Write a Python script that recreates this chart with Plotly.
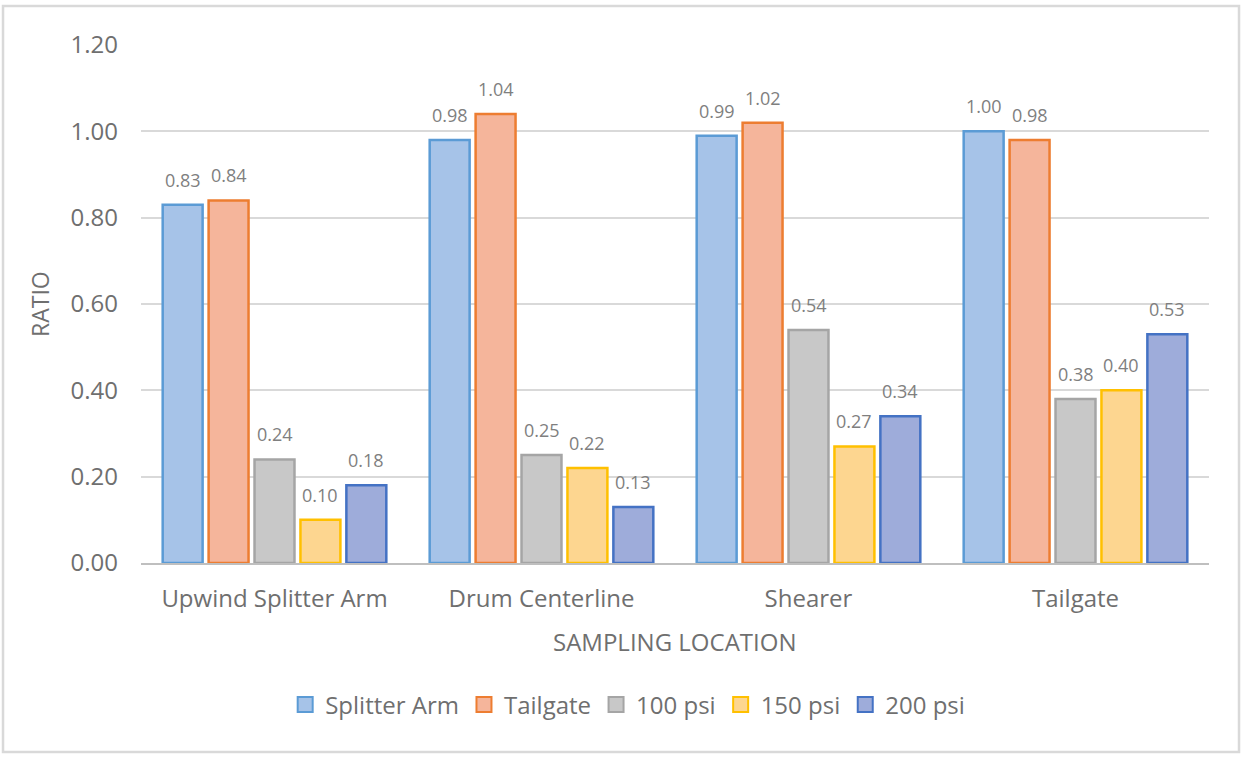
import plotly.graph_objects as go

# Sampling locations on the x axis
locations = ["Upwind Splitter Arm", "Drum Centerline", "Shearer", "Tailgate"]

# Ratio per series, one value per location
series_names = ["Splitter Arm", "Tailgate", "100 psi", "150 psi", "200 psi"]
splitter_arm = [0.83, 0.98, 0.99, 1.00]
tailgate = [0.84, 1.04, 1.02, 0.98]
psi_100 = [0.24, 0.25, 0.54, 0.38]
psi_150 = [0.10, 0.22, 0.27, 0.40]
psi_200 = [0.18, 0.13, 0.34, 0.53]

y_ticks = [0.0, 0.2, 0.4, 0.6, 0.8, 1.0, 1.2]

series_values = [splitter_arm, tailgate, psi_100, psi_150, psi_200]
fills = ["#a6c3e8", "#f5b59b", "#c8c8c8", "#fdd690", "#9eacda"]
edges = ["#5b9bd5", "#ed7d31", "#a5a5a5", "#ffc000", "#4472c4"]

FONT = "Open Sans, Noto Sans, sans-serif"
TEXT = "#6f6f6f"
BARGAP = 0.14
BARGROUPGAP = 0.13

x_pos = list(range(len(locations)))
fig = go.Figure()
for name, vals, fc, ec in zip(series_names, series_values, fills, edges):
    fig.add_trace(go.Bar(
        x=x_pos, y=vals, name=name, showlegend=False,
        marker=dict(color=fc, line=dict(color=ec, width=2.5)),
        hoverinfo="skip",
    ))

# legend entries: square swatches with the series outline
for name, fc, ec in zip(series_names, fills, edges):
    fig.add_trace(go.Scatter(
        x=[None], y=[None], mode="markers", name=name,
        marker=dict(symbol="square", size=15, color=fc, line=dict(color=ec, width=2)),
        hoverinfo="skip",
    ))

# value labels above each bar, centred on the bar's slot within its group
n = len(series_names)
slot = (1 - BARGAP) / n
annotations = []
for i, vals in enumerate(series_values):
    for j, v in enumerate(vals):
        annotations.append(dict(
            x=x_pos[j] + (i - (n - 1) / 2) * slot, y=v, xref="x", yref="y",
            text=f"{v:.2f}", showarrow=False, yanchor="bottom", yshift=11,
            font=dict(family=FONT, size=18, color="#7f7f7f"),
        ))

annotations.append(dict(
    x=-0.0946, y=0.5, xref="paper", yref="paper", text="RATIO",
    textangle=-90, showarrow=False, xanchor="center", yanchor="middle",
    font=dict(family=FONT, size=23, color=TEXT),
))
annotations.append(dict(
    x=0.5, y=-0.1506, xref="paper", yref="paper", text="SAMPLING LOCATION",
    showarrow=False, xanchor="center", yanchor="middle",
    font=dict(family=FONT, size=24, color=TEXT),
))

fig.update_layout(
    width=1242, height=758,
    margin=dict(l=141, r=33, t=45, b=195),
    paper_bgcolor="white", plot_bgcolor="white",
    barmode="group", bargap=BARGAP, bargroupgap=BARGROUPGAP,
    font=dict(family=FONT, color=TEXT),
    showlegend=True,
    legend=dict(
        orientation="h", x=0.135, xanchor="left", y=-0.274, yanchor="middle",
        font=dict(family=FONT, size=24, color=TEXT),
        itemclick=False, itemdoubleclick=False, tracegroupgap=0,
        itemwidth=30,
    ),
    annotations=annotations,
    shapes=[dict(
        type="rect", xref="paper", yref="paper",
        x0=-0.1292, x1=1.0281, y0=-0.3649, y1=1.0753,
        line=dict(color="#d9d9d9", width=2.5), layer="below",
    )],
)

fig.update_xaxes(
    tickmode="array", tickvals=x_pos, ticktext=locations,
    range=[-0.5, len(locations) - 0.5],
    showgrid=False, zeroline=False, showline=True,
    linecolor="#bfbfbf", linewidth=1.5, ticks="",
    tickfont=dict(family=FONT, size=24, color=TEXT),
    ticklabelstandoff=13,
)
fig.update_yaxes(
    range=[0, 1.2], tickvals=y_ticks, tickformat=".2f",
    showgrid=True, gridcolor="#d9d9d9", gridwidth=1.5,
    zeroline=False, showline=False, ticks="",
    tickfont=dict(family=FONT, size=24, color=TEXT),
    ticklabelstandoff=22,
)

fig.write_html("out.html")
